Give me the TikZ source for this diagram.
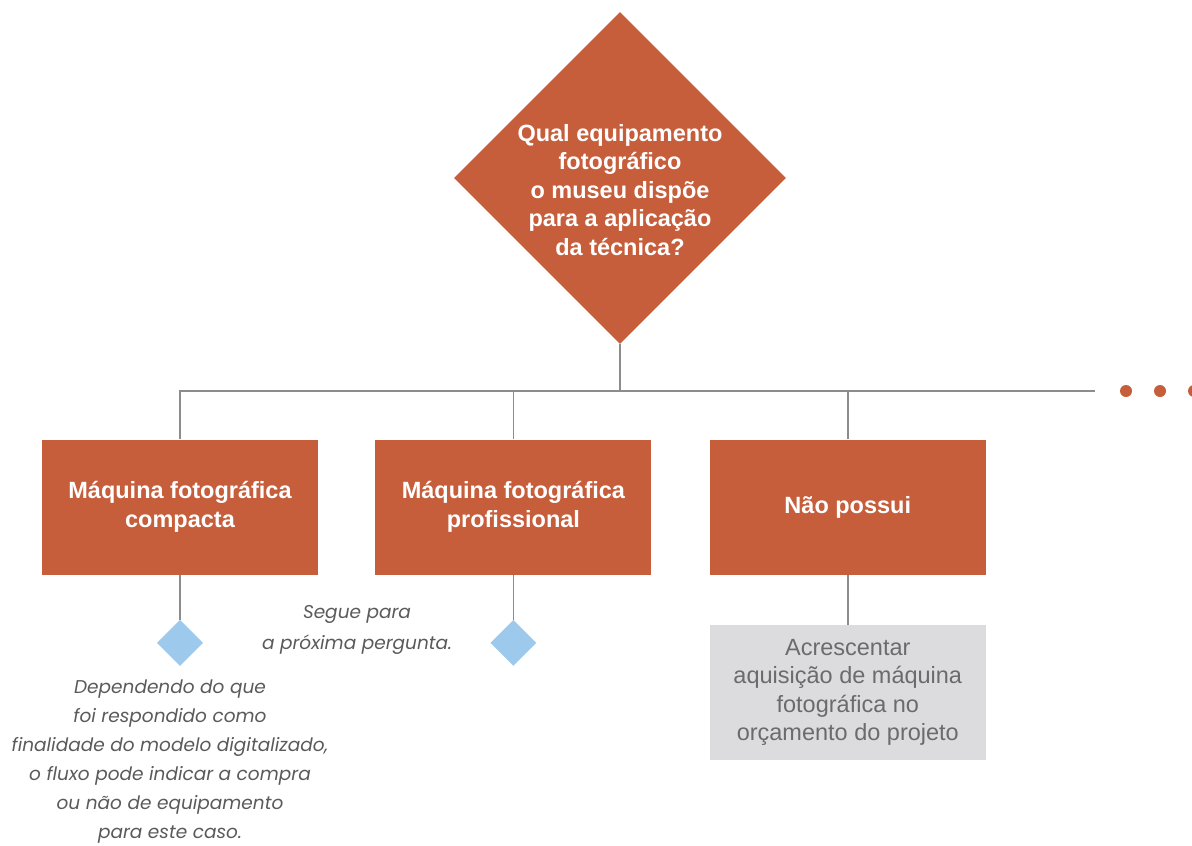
\documentclass[tikz,border=0pt]{standalone}
\usepackage{fontspec}
\setmainfont{Liberation Sans}
\newfontfamily\notafont{Poppins}
\usetikzlibrary{shapes.geometric,positioning}
\definecolor{telha}{HTML}{C65E3C}
\definecolor{azul}{HTML}{9DC9EC}
\definecolor{cinza}{HTML}{DCDCDF}
\definecolor{textocinza}{HTML}{6B6B6E}
\definecolor{linha}{HTML}{8C8C8C}
\definecolor{notacor}{HTML}{5A5A5A}
\tikzstyle{ques} = [diamond, fill=telha, inner sep=0pt, minimum width=332pt, minimum height=332pt]
\tikzstyle{quesTexto} = [text=white, font=\bfseries\fontsize{23.5}{28.5}\selectfont, align=center, inner sep=0pt]
\tikzstyle{resp} = [rectangle, fill=telha, text=white, font=\bfseries\fontsize{23.5}{29}\selectfont, align=center, inner sep=0pt, minimum width=276pt, minimum height=135pt]
\tikzstyle{acao} = [rectangle, fill=cinza, text=textocinza, font=\fontsize{23.5}{28.5}\selectfont, align=center, inner sep=0pt, minimum width=276pt, minimum height=135pt]
\tikzstyle{losango} = [diamond, fill=azul, inner sep=0pt, minimum width=46pt, minimum height=46pt]
\tikzstyle{nota} = [text=notacor, font=\notafont\itshape\fontsize{18.5}{29}\selectfont, align=center, inner sep=0pt]
\tikzstyle{elo} = [draw=linha, line width=1.4pt]
\tikzstyle{ponto} = [circle, fill=telha, inner sep=0pt, minimum size=12pt]

\begin{document}
\begin{tikzpicture}[x=1pt, y=-1pt]
		\useasboundingbox (0, 0) rectangle (1192, 846);

		% pergunta e alternativas
		\node[ques, label={[quesTexto, name=perguntaTexto, yshift=-12pt]center:Qual equipamento\\fotográfico\\o museu dispõe\\para a aplicação\\da técnica?}] (pergunta) at (620, 178) {};
		\node[resp] (compacta) at (180, 507) {Máquina fotográfica\\compacta};
		\node[resp, right=57pt of compacta] (profissional) {Máquina fotográfica\\profissional};
		\node[resp, right=58pt of profissional] (naoPossui) {Não possui};
		\node[acao, below=50pt of naoPossui] (aquisicao) {Acrescentar\\aquisição de máquina\\fotográfica no\\orçamento do projeto};

		\node[losango, below=45pt of compacta] (proxA) {};
		\node[losango, below=45pt of profissional] (proxB) {};

		\node[nota, font=\notafont\itshape\fontsize{18.5}{31}\selectfont] (segue) at (357, 630) {Segue para\\a próxima pergunta.};
		\node[nota] (depende) at (170, 762) {Dependendo do que\\foi respondido como\\finalidade do modelo digitalizado,\\o fluxo pode indicar a compra\\ou não de equipamento\\para este caso.};

		% barramento
		\coordinate (meio) at (620, 391);
		\coordinate (fim) at (1095, 391);
		\draw[elo] (pergunta.south) -- (meio);
		\draw[elo] (compacta.north) |- (fim);
		\draw[elo] (profissional.north) -- (profissional.north |- meio);
		\draw[elo] (naoPossui.north) -- (naoPossui.north |- meio);
		\draw[elo] (compacta) -- (proxA);
		\draw[elo] (profissional) -- (proxB);
		\draw[elo] (naoPossui) -- (aquisicao);

		\foreach \x/\nome in {1126/p1, 1160/p2, 1194/p3}
			\node[ponto] (\nome) at (\x, 391) {};
	\end{tikzpicture}
\end{document}
